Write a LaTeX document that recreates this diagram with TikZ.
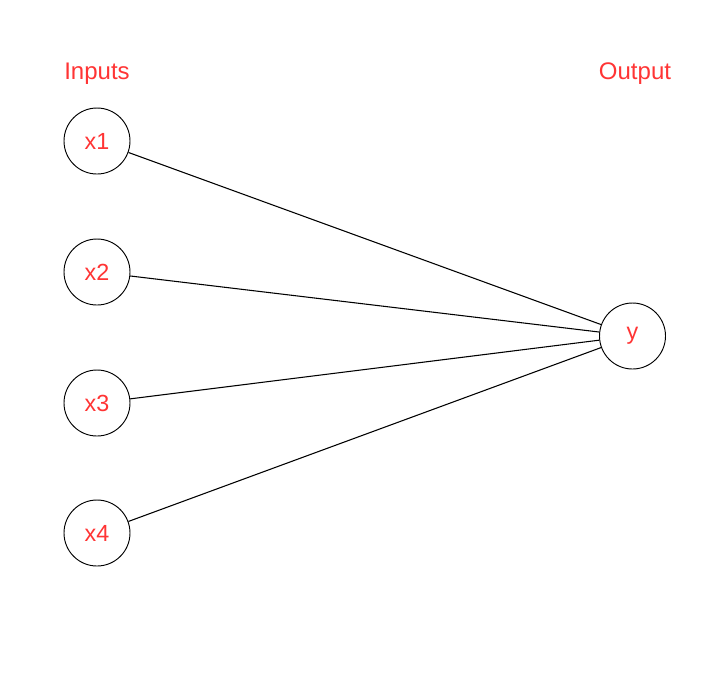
\documentclass[tikz,border=0pt]{standalone}
\usepackage{fontspec}
\setmainfont{Liberation Sans}
\usepackage{xcolor}
\definecolor{labelred}{RGB}{255,52,52}

\begin{document}
\begin{tikzpicture}[x=0.75pt,y=0.75pt,yscale=-1,xscale=1,
  unit/.style={draw, circle, minimum size=49.5pt, inner sep=0pt, line width=0.7pt, text=labelred, font=\fontsize{17.5}{20}\selectfont},
  head/.style={text=labelred, font=\fontsize{18}{21}\selectfont, inner sep=0.75pt},
  wire/.style={line width=0.8pt}]
  %set diagram to the full 714 x 687 frame
  \useasboundingbox (0,0) rectangle (714,687);

  % Headings
  \node [head] (inputs) at (97,73.5) {Inputs};
  \node [head] (output) at (635,73.5) {Output};

  % Input units
  \node [unit] (x1) at (97,141) {x1};
  \node [unit] (x2) at (97,272) {x2};
  \node [unit] (x3) at (97,403) {x3};
  \node [unit] (x4) at (97,533) {x4};

  % Output unit
  \node [unit] (y) at (632.5,336) {y};

  % Connections
  \draw [wire] (x1) -- (y);
  \draw [wire] (x2) -- (y);
  \draw [wire] (x3) -- (y);
  \draw [wire] (x4) -- (y);
\end{tikzpicture}
\end{document}
